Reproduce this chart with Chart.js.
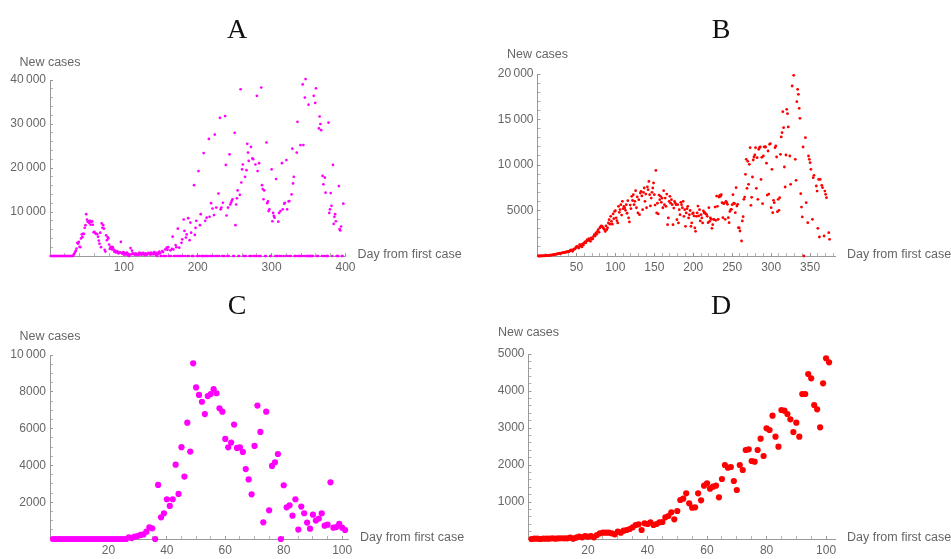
<!DOCTYPE html>
<html><head><meta charset="utf-8">
<script src="https://cdn.jsdelivr.net/npm/chart.js@4.4.1/dist/chart.umd.min.js"></script>
<style>
html,body{margin:0;padding:0;background:#fff;width:951px;height:559px;overflow:hidden;}
canvas{position:absolute;}
</style></head><body>
<canvas id="cA" width="474" height="279" style="left:0px;top:0px"></canvas>
<canvas id="cB" width="472" height="279" style="left:485px;top:0px"></canvas>
<canvas id="cC" width="474" height="280" style="left:0px;top:279px"></canvas>
<canvas id="cD" width="472" height="280" style="left:485px;top:279px"></canvas>
<script>
// ---- Data: new cases per day, index 0 = day 1 (null = no point) ----
const aCases = [
0,0,0,0,0,0,0,0,0,0,
0,0,0,0,0,0,0,0,0,0,
0,0,0,0,0,0,0,0,0,0,
0,300,550,900,1200,1700,3000,2800,3200,2100,
2000,4000,4900,4300,5100,5000,6400,7000,9500,8300,
7800,7900,7500,8000,7100,7700,7900,7100,5400,5500,
5200,5100,5000,5000,4400,3500,2800,5300,2000,7400,
6400,7000,6200,1400,1000,4700,3600,4300,4000,2600,
1600,2000,2100,1500,2000,1500,1000,1200,800,1000,
1100,700,600,900,800,3200,700,500,900,800,
300,600,400,800,200,500,0,300,1800,400,
1200,600,400,500,300,600,200,400,500,300,
800,400,600,300,500,700,400,200,600,500,
300,400,700,600,500,300,800,500,400,600,
900,500,300,700,0,400,800,1000,600,0,
0,1100,900,0,0,1500,0,1900,1400,2000,
0,0,1300,0,1600,4400,1500,0,0,2500,
2000,0,6200,0,1900,0,0,3000,3800,0,
8300,5700,0,4200,4900,0,8600,0,3600,7600,
5300,0,0,0,16100,4800,6400,8000,0,0,
19300,0,7000,9500,0,0,0,23400,0,8000,
0,8700,0,0,26600,8900,0,12000,0,10800,
0,9300,27600,0,11000,0,0,14200,0,31400,
10600,11000,0,12100,0,0,31800,20700,9200,0,
11000,0,23100,11700,12100,12500,12900,0,0,28000,
7000,11700,13100,14900,0,0,13900,37900,16700,19700,
20800,0,0,18000,0,19500,25500,23500,21600,0,
0,24800,0,22200,22000,0,0,20800,0,36400,
19300,0,21100,0,0,38300,16100,15200,12900,14900,
0,0,25800,12000,12400,10200,10600,0,0,19700,
7900,9800,9100,8700,0,17500,0,0,7800,9800,
0,10200,0,21100,10600,0,11900,12100,0,21800,
10600,0,12400,12500,0,0,14000,24400,16500,18000,
0,0,0,23500,30500,0,0,0,25200,0,
0,39000,25200,0,36000,40200,0,0,0,34400,
0,0,0,0,0,0,36400,40400,34800,38100,
0,0,0,29000,31700,30000,28600,0,18200,16300,
0,17800,14400,0,0,0,30300,9800,10600,14300,
11400,0,20700,7300,8900,9500,7900,0,0,0,
15900,6100,5800,6700,0,0,11900
];
const bCases = [
0,0,0,5,10,10,20,20,30,30,
40,40,50,60,60,80,90,100,120,130,
150,160,180,200,220,240,260,280,300,290,
320,350,380,400,380,420,450,440,480,470,
520,600,660,620,510,700,750,780,880,1020,
1060,950,880,1250,1100,1250,1000,1320,1200,1430,
1540,1450,1650,1800,1700,1900,1750,1610,2000,1850,
1900,2160,2340,2200,2530,2400,2710,2890,2600,3080,
3220,3300,3260,3150,3000,2900,2700,3300,2890,3100,
3630,3990,3500,4360,3800,3500,4620,4100,4900,4980,
4200,3880,3630,5460,4800,5100,5640,4500,6010,5200,
5460,5270,5020,5640,4700,6080,4180,3740,5600,5200,
6560,6100,6740,5640,6010,7180,5300,6500,4730,6190,
4540,6920,7110,6600,5090,7000,7470,6010,6800,5300,
7600,7290,8200,6740,5500,6370,7000,7470,8020,6740,
5600,9400,4730,5800,4620,6700,6190,6560,5900,6370,
5300,7180,5640,6370,5460,6800,3440,4180,6000,6560,
5800,6190,5640,3440,5270,6000,5820,5640,3990,5640,
3630,5090,4540,5900,5640,5300,6010,4360,5090,3260,
4730,5200,5460,4180,4540,5000,3260,3630,4650,4730,
4400,3080,2710,4360,4730,5490,4400,5090,3850,4540,
4180,3630,4950,4730,4760,4620,4580,4360,3660,5310,
3810,4180,4030,3040,3440,4030,3990,5380,3920,6590,
5460,4030,6480,6670,6560,6740,5860,4210,5750,5820,
4030,6010,5860,5680,4210,3660,4900,5090,5130,5640,
6740,5820,5750,4760,7510,5490,5680,3110,3080,2750,
null,1650,3850,4320,6230,6480,8970,10620,7440,10400,
7880,10070,11900,5570,6450,8680,10550,10880,11100,11900,
7440,10800,6230,11720,11900,11980,8420,10840,5750,10990,
12000,11980,11980,10200,6700,11540,6810,12270,12340,5310,
9520,4760,6120,5860,11900,12090,10880,4870,6230,5020,
6410,11170,13080,13550,15860,14100,9780,7580,11100,16120,
15640,14180,20330,10990,7880,20330,18680,null,19850,null,
10620,8320,16960,18320,17770,16230,15130,6850,5380,4290,
11980,0,null,13000,5860,null,3660,10990,10620,10260,
9520,null,4030,8610,8860,null,null,7690,7140,3040,
8420,2090,8420,null,7770,7510,null,2200,7140,6780,
6410,null,null,2560,1830
];
const cCases = [
0,0,0,0,0,0,0,0,0,0,
0,0,0,0,0,0,0,0,0,0,
0,0,0,0,0,0,90,50,130,160,
220,250,400,630,580,0,2940,1180,1400,2160,
1800,2160,4040,2450,4990,3390,6320,4750,9550,8240,
7830,7460,6790,7770,7880,8140,7920,7100,6920,5440,
4980,5240,6220,4950,4980,4730,3800,3240,2430,5060,
7250,5820,906,6920,1560,3970,4170,4620,0,2920,
1720,1830,1270,2160,510,1760,1400,890,560,1320,
1000,1110,1400,725,780,3080,616,650,830,616,
490
];
const dCases = [
0,10,10,0,10,10,10,20,10,18,
20,18,18,36,9,36,63,45,81,63,
81,45,108,153,171,171,171,153,126,198,
171,225,243,270,315,378,396,243,423,405,
450,378,405,450,460,586,622,721,532,757,
1054,1090,1234,964,847,856,1234,1045,1441,1505,
1360,1414,1441,1126,1622,2000,1928,1946,1568,1324,
2000,1865,2406,2424,2108,2090,2406,2712,2243,2991,
2946,3334,2766,2496,3487,3469,3379,3235,2892,3145,
2766,3919,3919,4460,4343,3622,3505,3018,4208,4883,
4775
];

// ---- Tick labels ----
const aXTicks = [100, 200, 300, 400];
const aYTicks = [10000, 20000, 30000, 40000];
const bXTicks = [50, 100, 150, 200, 250, 300, 350];
const bYTicks = [5000, 10000, 15000, 20000];
const cXTicks = [20, 40, 60, 80, 100];
const cYTicks = [2000, 4000, 6000, 8000, 10000];
const dXTicks = [20, 40, 60, 80, 100];
const dYTicks = [1000, 2000, 3000, 4000, 5000];

const titles = ['A', 'B', 'C', 'D'];
const yTitle = 'New cases';
const xTitle = 'Day from first case';

// ---- Style ----
const AXIS = '#9a9a9a';
const MINOR = '#b4b4b4';
const TEXT = '#666666';
const SANS = '"Liberation Sans", Arial, Helvetica, sans-serif';
const SERIF = '"Liberation Serif", "Times New Roman", "DejaVu Serif", serif';

function fmt(v) {
  return v >= 10000 ? String(v).replace(/\B(?=(\d{3})+(?!\d))/g, '\u2009') : String(v);
}
function toPoints(values) {
  const pts = [];
  values.forEach((v, i) => { if (v !== null) pts.push({x: i + 1, y: v}); });
  return pts;
}

const panelText = {
  id: 'panelText',
  afterDraw(chart, args, o) {
    const {ctx, chartArea} = chart;
    ctx.save();
    ctx.fillStyle = '#111';
    ctx.font = o.titleSize + 'px ' + SERIF;
    ctx.textAlign = 'center';
    ctx.textBaseline = 'alphabetic';
    ctx.fillText(o.title, chart.width / 2, o.titleBaseline);
    ctx.fillStyle = TEXT;
    ctx.font = '12.5px ' + SANS;
    ctx.textBaseline = 'middle';
    ctx.fillText(yTitle, chartArea.left, chartArea.top - o.yGap);
    ctx.textAlign = 'left';
    ctx.fillText(xTitle, chartArea.right + 12, chartArea.bottom - 1);
    ctx.restore();
  }
};

function makePanel(id, p) {
  new Chart(document.getElementById(id), {
    type: 'scatter',
    data: {
      datasets: [{
        data: toPoints(p.values),
        backgroundColor: p.color,
        borderWidth: 0,
        pointRadius: p.r,
        pointHoverRadius: p.r,
        clip: false
      }]
    },
    plugins: [panelText],
    options: {
      responsive: false,
      animation: false,
      devicePixelRatio: 1,
      events: [],
      layout: {padding: p.pad},
      plugins: {
        legend: {display: false},
        tooltip: {enabled: false},
        panelText: {title: p.title, titleSize: 28, titleBaseline: p.titleBaseline, yGap: p.yGap}
      },
      scales: {
        x: {
          type: 'linear', position: 'bottom', min: 0, max: p.xMax,
          afterFit: s => { s.height = 20; },
          border: {display: true, color: AXIS, width: 1},
          grid: {drawOnChartArea: false, drawTicks: true, tickLength: -3,
                 tickColor: c => p.xTicks.includes(c.tick && c.tick.value) ? AXIS : MINOR},
          ticks: {stepSize: p.xStep, autoSkip: false, maxRotation: 0, minRotation: 0,
                  includeBounds: false, padding: 7, color: TEXT,
                  font: {family: SANS, size: 12},
                  callback: v => p.xTicks.includes(v) ? fmt(v) : ''}
        },
        y: {
          type: 'linear', position: 'left', min: 0, max: p.yMax,
          afterFit: s => { s.width = 40; },
          border: {display: true, color: AXIS, width: 1},
          grid: {drawOnChartArea: false, drawTicks: true, tickLength: -3,
                 tickColor: c => p.yTicks.includes(c.tick && c.tick.value) ? AXIS : MINOR},
          ticks: {stepSize: p.yStep, autoSkip: false, includeBounds: false, padding: 7,
                  color: TEXT, font: {family: SANS, size: 12},
                  callback: v => p.yTicks.includes(v) ? fmt(v) : ''}
        }
      }
    }
  });
}

makePanel('cA', {values: aCases, color: '#ff00ff', r: 1.35, title: titles[0], titleBaseline: 38, yGap: 17,
  xMax: 400, xStep: 20, yMax: 40000, yStep: 2000, xTicks: aXTicks, yTicks: aYTicks,
  pad: {left: 10, right: 128.5, top: 80, bottom: 3}});
makePanel('cB', {values: bCases, color: '#ff0000', r: 1.4, title: titles[1], titleBaseline: 38, yGap: 19,
  xMax: 382, xStep: 10, yMax: 20000, yStep: 1000, xTicks: bXTicks, yTicks: bYTicks,
  pad: {left: 12.5, right: 122, top: 74, bottom: 3}});
makePanel('cC', {values: cCases, color: '#ff00ff', r: 3.1, title: titles[2], titleBaseline: 35, yGap: 18,
  xMax: 102, xStep: 5, yMax: 10000, yStep: 500, xTicks: cXTicks, yTicks: cYTicks,
  pad: {left: 10, right: 126, top: 76, bottom: 0}});
makePanel('cD', {values: dCases, color: '#ff0000', r: 3.1, title: titles[3], titleBaseline: 35, yGap: 21,
  xMax: 103, xStep: 5, yMax: 5000, yStep: 200, xTicks: dXTicks, yTicks: dYTicks,
  pad: {left: 3.5, right: 122, top: 75, bottom: 0}});
</script>
</body></html>
